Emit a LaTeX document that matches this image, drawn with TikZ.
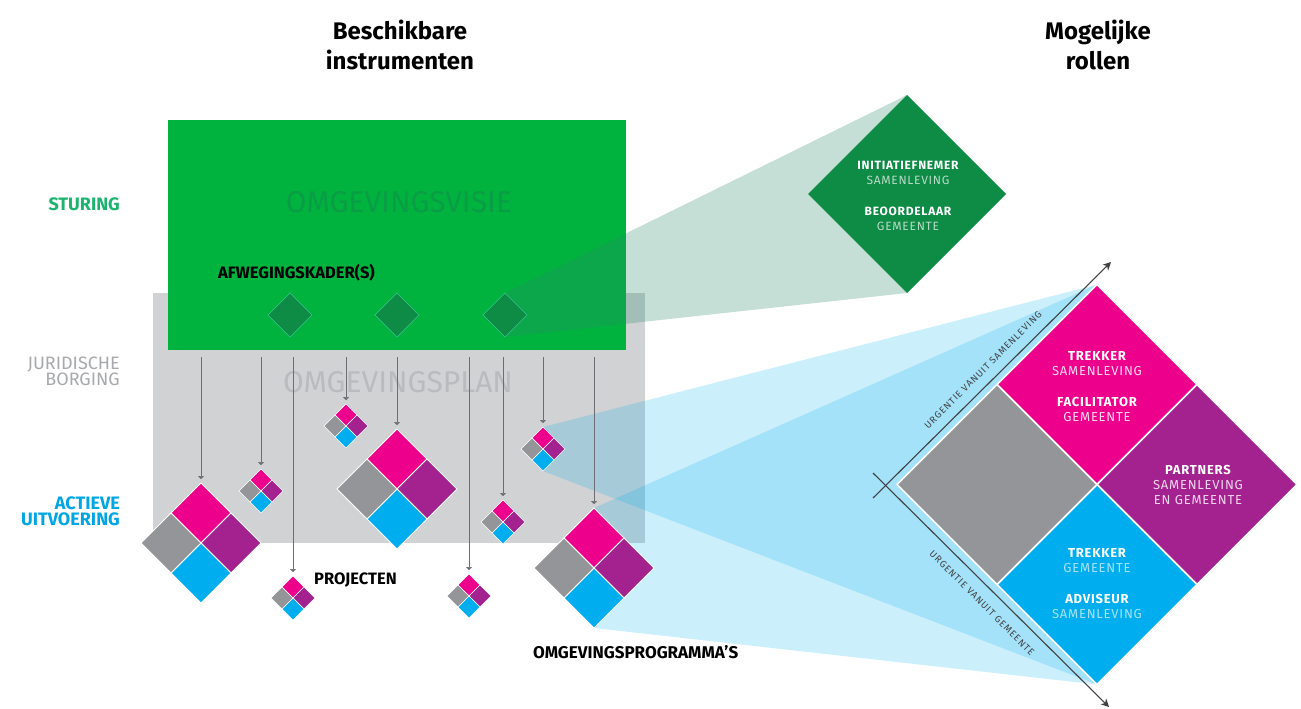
\documentclass[tikz,border=0pt]{standalone}
\usepackage{fontspec}
\setmainfont{Fira Sans}
\newfontfamily\spacedfont[LetterSpace=6]{Fira Sans}
\newfontfamily\axisfont[LetterSpace=10]{Fira Sans}
\usetikzlibrary{shapes.geometric,arrows.meta}
\pgfdeclarelayer{rects}
\pgfdeclarelayer{funnels}
\pgfsetlayers{rects,funnels,main}

\definecolor{cgreen}{HTML}{00B33F}
\definecolor{cdkgreen}{HTML}{0E8B45}
\definecolor{cgedge}{HTML}{3CC48E}
\definecolor{cvisie}{HTML}{0A9D45}
\definecolor{cgrayrect}{HTML}{D1D2D4}
\definecolor{cplan}{HTML}{BABBBE}
\definecolor{cpink}{HTML}{EC008C}
\definecolor{cpurple}{HTML}{A4228F}
\definecolor{cblue}{HTML}{00AEEF}
\definecolor{cgray}{HTML}{939598}
\definecolor{csturing}{HTML}{1BB36E}
\definecolor{cjur}{HTML}{A7A9AC}
\definecolor{cactief}{HTML}{00A5E3}
\definecolor{cline}{HTML}{6D6E71}
\definecolor{caxis}{HTML}{414042}
\definecolor{cteal}{HTML}{2E8B6B}

\newcommand\quaddia[5]{%
  \node[dia, minimum size={2*#4}] (#1) at (#2,#3) {};
  \filldraw[fill=cpink, draw=white, line width=#5] (#2,#3-#4) -- (#2+#4/2,#3-#4/2) -- (#2,#3) -- (#2-#4/2,#3-#4/2) -- cycle;
  \filldraw[fill=cpurple, draw=white, line width=#5] (#2+#4/2,#3-#4/2) -- (#2+#4,#3) -- (#2+#4/2,#3+#4/2) -- (#2,#3) -- cycle;
  \filldraw[fill=cblue, draw=white, line width=#5] (#2,#3) -- (#2+#4/2,#3+#4/2) -- (#2,#3+#4) -- (#2-#4/2,#3+#4/2) -- cycle;
  \filldraw[fill=cgray, draw=white, line width=#5] (#2-#4/2,#3-#4/2) -- (#2,#3) -- (#2-#4/2,#3+#4/2) -- (#2-#4,#3) -- cycle;
}

\tikzset{
  dia/.style={diamond, aspect=1, inner sep=0pt, outer sep=0pt},
  smallgreen/.style={dia, fill=cdkgreen, draw=cgedge, line width=0.6pt, minimum size=44},
  drop/.style={draw=cline, line width=0.5pt, -{Triangle[length=3pt,width=6pt]}, shorten >=4pt},
  axisline/.style={draw=caxis, line width=1.1pt, -{Stealth[length=8pt,width=8pt,inset=2.5pt]}},
  axlbl/.style={font=\axisfont\fontsize{9.5}{11}\selectfont, text=caxis, inner sep=0pt},
  title/.style={font=\bfseries\fontsize{24}{30}\selectfont, align=center, text=black},
  side/.style={font=\fontsize{18}{16}\selectfont, align=right, anchor=east, inner sep=0pt},
  blabel/.style={font=\bfseries\fontsize{16.5}{18}\selectfont, text=black, inner sep=0pt},
  bigword/.style={font=\fontsize{30}{32}\selectfont, inner sep=0pt},
  roletext/.style={font=\spacedfont\fontsize{13}{15}\selectfont, align=center, text=white, inner sep=0pt},
  tealfun/.style={fill=cteal, fill opacity=0.28},
  bluefun/.style={fill=cblue, fill opacity=0.2},
}

\begin{document}
\begin{tikzpicture}[x=1pt,y=-1pt]
\useasboundingbox (0,0) rectangle (1301,709);

% rectangles
\begin{pgfonlayer}{rects}
  \node[rectangle, fill=cgrayrect, minimum width=492, minimum height=250, inner sep=0pt] (plan) at (399,418) {};
  \node[rectangle, fill=cgreen, minimum width=458, minimum height=230, inner sep=0pt] (visie) at (397,235) {};
  \node[bigword, text=cvisie] (tvisie) at (399,202) {OMGEVINGSVISIE};
  \node[bigword, text=cplan] (tplan) at (398,382) {OMGEVINGSPLAN};
\end{pgfonlayer}

% titles
\node[title] (tBesch) at (400,45) {Beschikbare\\instrumenten};
\node[title] (tMog) at (1098,45) {Mogelijke\\rollen};

% side labels
\node[side, text=csturing] (lst) at (120,204) {\bfseries STURING};
\node[side, text=cjur] (ljur) at (120,371) {JURIDISCHE\\BORGING};
\node[side, text=cactief] (lact) at (120,511) {\bfseries ACTIEVE\\\bfseries UITVOERING};

% afwegingskaders
\node[blabel, anchor=west] (tafw) at (218,273) {AFWEGINGSKADER(S)};
\node[smallgreen] (g1) at (290,315) {};
\node[smallgreen] (g2) at (397,315) {};
\node[smallgreen] (g3) at (505,315) {};

% big green role diamond
\node[dia, fill=cdkgreen, minimum size=198] (G) at (907,194) {};
\node[roletext, font=\spacedfont\fontsize{12}{15}\selectfont] (tG) at (908,196)
  {\bfseries INITIATIEFNEMER\\ \textcolor{white!70!cdkgreen}{SAMENLEVING}\\[16pt]
   \bfseries BEOORDELAAR\\ \textcolor{white!70!cdkgreen}{GEMEENTE}};

% project / programme diamonds
\quaddia{q1}{201}{543}{60}{0.8pt}
\quaddia{q2}{261}{491}{22}{0.6pt}
\quaddia{q3}{293}{598}{22}{0.6pt}
\quaddia{q4}{346}{426}{22}{0.6pt}
\quaddia{q5}{397}{489}{60}{0.8pt}
\quaddia{q6}{503}{522}{22}{0.6pt}
\quaddia{q7}{469}{596}{22}{0.6pt}
\quaddia{q8}{543}{449}{22}{0.6pt}
\quaddia{q9}{594}{568}{60}{0.8pt}

% role diamond
\quaddia{R}{1097}{484.5}{200}{1.6pt}

% funnels
\begin{pgfonlayer}{funnels}
  \fill[tealfun] (g3.north) -- (G.north) -- (G.south) -- (g3.south) -- cycle;
  \fill[bluefun] (q8.north) -- (R.north) -- (R.south) -- (q8.south) -- cycle;
  \fill[bluefun] (q9.north) -- (R.north) -- (R.south) -- (q9.south) -- cycle;
\end{pgfonlayer}

% drop arrows
\foreach \n/\xx in {q1/201,q2/261,q3/293,q4/346,q5/397,q6/503,q7/469,q8/543,q9/594}{
  \coordinate (a\n) at (\xx,357);
  \draw[drop] (a\n) -- (\n.north);
}

\node[blabel, anchor=west] (tproj) at (314,580) {PROJECTEN};
\node[blabel, anchor=west, font=\bfseries\fontsize{17}{18}\selectfont] (tprog) at (533,652) {OMGEVINGSPROGRAMMA'S};

% role texts
\node[roletext] (tpink) at (1097,386.5)
  {\bfseries TREKKER\\ \textcolor{white!85!cpink}{SAMENLEVING}\\[16pt]
   \bfseries FACILITATOR\\ \textcolor{white!85!cpink}{GEMEENTE}};
\node[roletext] (tpurple) at (1198,485)
  {\bfseries PARTNERS\\ \textcolor{white!82!cpurple}{SAMENLEVING}\\ \textcolor{white!82!cpurple}{EN GEMEENTE}};
\node[roletext] (tblue) at (1097,583.5)
  {\bfseries TREKKER\\ \textcolor{white!65!cblue}{GEMEENTE}\\[16pt]
   \bfseries ADVISEUR\\ \textcolor{white!65!cblue}{SAMENLEVING}};

% axes
\coordinate (axUs) at (873,498);
\coordinate (axUe) at (1111,262);
\coordinate (axLs) at (873,473);
\coordinate (axLe) at (1109,707);
\draw[axisline] (axUs) -- (axUe);
\draw[axisline] (axLs) -- (axLe);
\node[axlbl, rotate=45] (lU) at (983,370) {URGENTIE VANUIT SAMENLEVING};
\node[axlbl, rotate=-45] (lL) at (982,603) {URGENTIE VANUIT GEMEENTE};

\end{tikzpicture}
\end{document}
